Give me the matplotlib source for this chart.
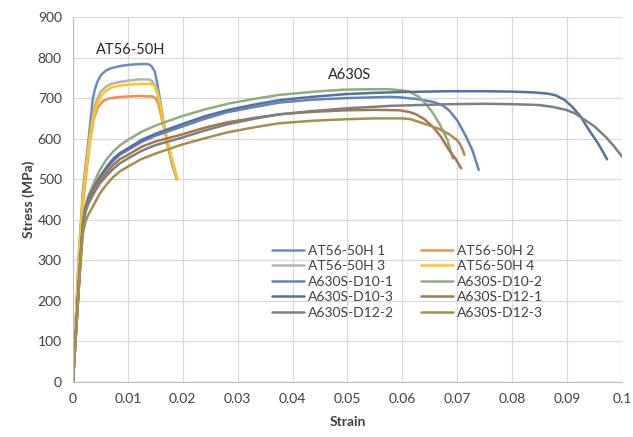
import matplotlib.pyplot as plt

plt.rcParams['font.family'] = ['Lato', 'DejaVu Sans']

# Curvas esfuerzo-deformacion (strain, stress MPa)
at1_strain = [0, 0.001, 0.0018, 0.0022, 0.0027, 0.0032, 0.0036, 0.004, 0.0045, 0.0051, 0.006, 0.007, 0.0082, 0.0095, 0.011, 0.0125, 0.0135, 0.014, 0.0144, 0.0149, 0.0153, 0.0158, 0.0165, 0.0173, 0.018, 0.0189]
at1_stress = [0, 300, 470, 522, 580, 645, 698, 722, 742, 757, 768, 774, 778, 781, 783, 784, 784, 782, 777, 765, 740, 700, 640, 580, 540, 500]

at2_strain = [0, 0.001, 0.0018, 0.0023, 0.0028, 0.0033, 0.0038, 0.0045, 0.0055, 0.0065, 0.008, 0.010, 0.012, 0.0145, 0.015, 0.0155, 0.016, 0.0166, 0.0173, 0.0181, 0.019]
at2_stress = [0, 280, 435, 500, 560, 610, 648, 677, 693, 699, 702, 704, 705, 704, 700, 688, 660, 625, 585, 540, 500]

at3_strain = [0, 0.001, 0.0018, 0.0023, 0.0028, 0.0033, 0.0038, 0.0043, 0.005, 0.006, 0.007, 0.0085, 0.010, 0.012, 0.0138, 0.0144, 0.0149, 0.0154, 0.016, 0.0167, 0.0175, 0.0183, 0.019]
at3_stress = [0, 290, 455, 520, 580, 630, 670, 695, 715, 728, 735, 740, 743, 746, 746, 742, 732, 710, 670, 625, 575, 535, 500]

at4_strain = [0, 0.001, 0.0018, 0.0023, 0.0028, 0.0033, 0.0038, 0.0043, 0.005, 0.006, 0.007, 0.0085, 0.010, 0.012, 0.0143, 0.0149, 0.0154, 0.0159, 0.0165, 0.0172, 0.018, 0.019]
at4_stress = [0, 290, 455, 515, 570, 617, 655, 682, 703, 718, 726, 731, 733, 735, 735, 730, 715, 685, 640, 595, 550, 500]

d10_1_strain = [0, 0.0012, 0.0018, 0.0022, 0.0027, 0.0033, 0.004, 0.0049, 0.006, 0.0073, 0.0085, 0.010, 0.0125, 0.015, 0.0195, 0.024, 0.028, 0.033, 0.0376, 0.0435, 0.0498, 0.055, 0.0576, 0.0595, 0.0625, 0.0655, 0.0672, 0.0685, 0.070, 0.0716, 0.0728, 0.0739]
d10_1_stress = [0, 270, 390, 423, 446, 465, 482, 502, 524, 545, 560, 572, 592, 607, 628, 649, 665, 678, 689, 696, 700, 702, 703, 702, 698, 691, 683, 670, 645, 605, 570, 523]

d10_2_strain = [0, 0.0012, 0.0018, 0.0022, 0.0027, 0.0033, 0.004, 0.0049, 0.006, 0.0073, 0.0085, 0.010, 0.0125, 0.015, 0.0195, 0.024, 0.0285, 0.033, 0.0376, 0.045, 0.0498, 0.054, 0.0576, 0.060, 0.0613, 0.063, 0.0642, 0.0655, 0.0667, 0.0682, 0.0692]
d10_2_stress = [0, 275, 395, 430, 455, 475, 497, 523, 547, 568, 583, 597, 617, 632, 654, 672, 687, 698, 708, 717, 721, 722, 722, 719, 716, 703, 687, 664, 638, 597, 551]

d10_3_strain = [0, 0.0012, 0.0018, 0.0022, 0.0027, 0.0033, 0.004, 0.0049, 0.006, 0.0073, 0.0085, 0.010, 0.0125, 0.015, 0.0195, 0.024, 0.028, 0.033, 0.0376, 0.0435, 0.0498, 0.055, 0.060, 0.0685, 0.075, 0.080, 0.084, 0.0865, 0.0879, 0.0895, 0.0909, 0.0925, 0.094, 0.0957, 0.0973]
d10_3_stress = [0, 270, 390, 425, 448, 467, 485, 506, 528, 550, 564, 576, 597, 612, 634, 655, 670, 684, 695, 703, 710, 713, 715, 717, 717, 716, 714, 711, 707, 696, 679, 654, 621, 587, 549]

d12_1_strain = [0, 0.0012, 0.0018, 0.0022, 0.0027, 0.0033, 0.004, 0.0049, 0.006, 0.0073, 0.0085, 0.010, 0.0125, 0.015, 0.0195, 0.024, 0.028, 0.033, 0.0376, 0.0435, 0.0498, 0.055, 0.0595, 0.0612, 0.0625, 0.064, 0.0655, 0.067, 0.0685, 0.0697, 0.0707]
d12_1_stress = [0, 268, 388, 420, 442, 460, 478, 498, 515, 535, 549, 560, 580, 593, 609, 627, 640, 651, 660, 666, 670, 671, 670, 666, 660, 648, 630, 605, 572, 550, 527]

d12_2_strain = [0, 0.0012, 0.0018, 0.0022, 0.0027, 0.0033, 0.004, 0.0049, 0.006, 0.0073, 0.0085, 0.010, 0.0125, 0.015, 0.0195, 0.024, 0.028, 0.033, 0.0376, 0.0435, 0.050, 0.058, 0.0685, 0.075, 0.080, 0.0849, 0.0875, 0.0898, 0.0915, 0.0927, 0.095, 0.097, 0.0985, 0.100]
d12_2_stress = [0, 265, 385, 415, 436, 453, 470, 490, 507, 525, 539, 551, 570, 584, 601, 620, 635, 649, 660, 668, 675, 681, 685, 686, 685, 683, 678, 671, 662, 651, 630, 605, 582, 556]

d12_3_strain = [0, 0.0012, 0.0018, 0.0022, 0.0027, 0.0033, 0.004, 0.0049, 0.006, 0.0073, 0.0085, 0.010, 0.0125, 0.015, 0.0195, 0.024, 0.028, 0.033, 0.0376, 0.0435, 0.0498, 0.055, 0.060, 0.0615, 0.0637, 0.0665, 0.0685, 0.0698, 0.0704, 0.0709, 0.0713]
d12_3_stress = [0, 258, 365, 392, 410, 425, 442, 465, 485, 505, 519, 531, 550, 563, 584, 601, 615, 628, 638, 644, 648, 650, 650, 648, 638, 625, 611, 598, 589, 575, 560]

series = [
    ('AT56-50H 1', at1_strain, at1_stress, '#6A8EC4'),
    ('AT56-50H 2', at2_strain, at2_stress, '#EE914D'),
    ('AT56-50H 3', at3_strain, at3_stress, '#B3B3B3'),
    ('AT56-50H 4', at4_strain, at4_stress, '#FFC61A'),
    ('A630S-D10-1', d10_1_strain, d10_1_stress, '#6482C0'),
    ('A630S-D10-2', d10_2_strain, d10_2_stress, '#8FAE7F'),
    ('A630S-D10-3', d10_3_strain, d10_3_stress, '#5471A0'),
    ('A630S-D12-1', d12_1_strain, d12_1_stress, '#A9744E'),
    ('A630S-D12-2', d12_2_strain, d12_2_stress, '#7F7F7F'),
    ('A630S-D12-3', d12_3_strain, d12_3_stress, '#A88E4E'),
]

fig = plt.figure(figsize=(6.33, 4.37), dpi=100)
ax = fig.add_axes([0.1153, 0.1259, 0.8673, 0.8352])

lineas = []
for nombre, x, y, color in series:
    l, = ax.plot(x, y, color=color, lw=1.8, label=nombre,
                 solid_capstyle='round', solid_joinstyle='round')
    lineas.append(l)

ax.set_xlim(0, 0.1)
ax.set_ylim(0, 900)
ax.set_xticks([i / 100 for i in range(11)])
ax.set_xticklabels(['0', '0.01', '0.02', '0.03', '0.04', '0.05', '0.06', '0.07', '0.08', '0.09', '0.1'])
ax.set_yticks(range(0, 901, 100))
ax.grid(True, color='#D9D9D9', lw=0.9)
ax.set_axisbelow(True)
for lado in ['top', 'right']:
    ax.spines[lado].set_visible(False)
for lado in ['left', 'bottom']:
    ax.spines[lado].set_color('#BFBFBF')
ax.tick_params(length=0, labelsize=10, colors='#404040', pad=8)

ax.set_xlabel('Strain', fontsize=10, fontweight='bold', color='#404040', labelpad=8)
ax.set_ylabel('Stress (MPa)', fontsize=10, fontweight='bold', color='#404040', labelpad=2)

ax.text(0.0105, 818, 'AT56-50H', fontsize=10.5, ha='center', va='center', color='#262626')
ax.text(0.0504, 757, 'A630S', fontsize=10.5, ha='center', va='center', color='#262626')

# Leyenda por filas como en Excel
orden = [0, 2, 4, 6, 8, 1, 3, 5, 7, 9]
ax.legend([lineas[i] for i in orden], [series[i][0] for i in orden],
          ncol=2, frameon=False, fontsize=10, loc='upper left', bbox_to_anchor=(0.34, 0.41),
          handlelength=2.3, handletextpad=0.3, columnspacing=1.9, labelspacing=0.25,
          labelcolor='#404040')

plt.savefig('out.png', dpi=100)
